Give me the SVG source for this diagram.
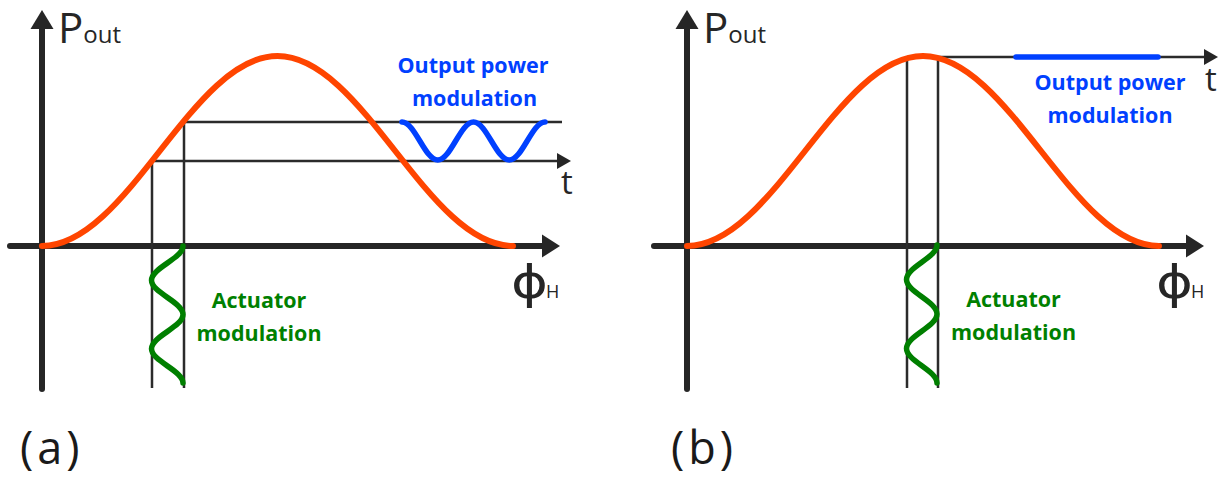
<svg xmlns="http://www.w3.org/2000/svg" width="1231" height="477" viewBox="0 0 1231 477">
<style>
.axis{stroke:#262626;stroke-width:6;fill:none;stroke-linecap:round}
.thin{stroke:#2b2b2b;stroke-width:2.5;fill:none}
.head{fill:#262626;stroke:none}
.curve{stroke:#ff4500;stroke-width:6;fill:none;stroke-linecap:round}
.act{stroke:#007f00;stroke-width:5.5;fill:none;stroke-linecap:round}
.out{stroke:#0040ff;stroke-width:5.5;fill:none;stroke-linecap:round}
.lbl{font-family:"Open Sans","Liberation Sans",sans-serif;fill:#262626}
.blue{font-family:"Open Sans","Liberation Sans",sans-serif;font-weight:bold;font-size:21.5px;fill:#0040ff;text-anchor:middle}
.green{font-family:"Open Sans","Liberation Sans",sans-serif;font-weight:bold;font-size:21.5px;fill:#008000;text-anchor:middle}
.phi{font-family:"DejaVu Sans",sans-serif;font-size:46px;fill:#262626}
.panel{font-family:"Open Sans","Liberation Sans",sans-serif;fill:#1a1a1a;font-size:45px;letter-spacing:4px}
</style>
<g id="connectors">
  <!-- panel a axes -->
  <line class="axis" x1="42" y1="389" x2="42" y2="27"/>
  <polygon class="head" points="42,10 30.5,29 53.5,29"/>
  <line class="axis" x1="10" y1="246" x2="544" y2="246"/>
  <polygon class="head" points="560,246 542,234.5 542,257.5"/>
  <!-- panel a guides -->
  <polyline class="thin" points="152,388 152,161 559,161"/>
  <polygon class="head" points="571,161 557,153 557,169"/>
  <polyline class="thin" points="184,388 184,122 562,122"/>
  <!-- panel b axes -->
  <line class="axis" x1="687" y1="389" x2="687" y2="27"/>
  <polygon class="head" points="687,10 675.5,29 698.5,29"/>
  <line class="axis" x1="654" y1="246" x2="1189" y2="246"/>
  <polygon class="head" points="1204,246 1186,234.5 1186,257.5"/>
  <!-- panel b guides -->
  <line class="thin" x1="907" y1="388" x2="907" y2="57"/>
  <line class="thin" x1="938" y1="388" x2="938" y2="57"/>
  <line class="thin" x1="907" y1="57" x2="1205" y2="57"/>
  <polygon class="head" points="1218,57 1204,49 1204,65"/>
</g>
<g id="transfer-curve-a">
  <path class="curve" d="M42,246 C127.6,246 191.9,56 277.5,56 C363.1,56 427.4,246 513,246"/>
</g>
<g id="actuator-modulation-a">
  <path class="act" d="M183,246 C183,258.45 151.5,267.8 151.5,280.25 C151.5,292.7 183,302.05 183,314.5 C183,326.95 151.5,336.3 151.5,348.75 C151.5,361.2 183,370.55 183,383"/>
  <text class="green" x="259" y="308">Actuator</text>
  <text class="green" x="259" y="341">modulation</text>
</g>
<g id="output-modulation-a">
  <path class="out" d="M402,122 C415,122 424.75,160 437.75,160 C450.75,160 460.5,122 473.5,122 C486.5,122 496.25,160 509.25,160 C522.25,160 532,122 545,122"/>
  <text class="blue" x="473" y="73">Output power</text>
  <text class="blue" x="474.5" y="106">modulation</text>
</g>
<g id="labels-a">
  <text class="lbl" x="58" y="43" font-size="42">P<tspan font-size="24">out</tspan></text>
  <text class="lbl" x="567" y="194" font-size="33" text-anchor="middle">t</text>
  <text class="phi" transform="translate(511,298) scale(1.22,1)">ɸ</text>
  <text class="lbl" x="546" y="298" font-size="18">H</text>
  <text class="panel" x="20" y="464">(a)</text>
</g>
<g id="transfer-curve-b">
  <path class="curve" d="M687,246 C772.8,246 837.2,56 923,56 C1008.8,56 1073.2,246 1159,246"/>
</g>
<g id="actuator-modulation-b">
  <path class="act" d="M937,245 C937,257.5 906.5,267 906.5,279.5 C906.5,292 937,301.5 937,314 C937,326.5 906.5,336 906.5,348.5 C906.5,361 937,370.5 937,383"/>
  <text class="green" x="1013.5" y="307">Actuator</text>
  <text class="green" x="1013.5" y="340">modulation</text>
</g>
<g id="output-modulation-b">
  <line class="out" x1="1016" y1="57" x2="1158" y2="57"/>
  <text class="blue" x="1110" y="90">Output power</text>
  <text class="blue" x="1110" y="123">modulation</text>
</g>
<g id="labels-b">
  <text class="lbl" x="703" y="43" font-size="42">P<tspan font-size="24">out</tspan></text>
  <text class="lbl" x="1211" y="91" font-size="33" text-anchor="middle">t</text>
  <text class="phi" transform="translate(1156,298) scale(1.22,1)">ɸ</text>
  <text class="lbl" x="1191" y="298" font-size="18">H</text>
  <text class="panel" x="671" y="464">(b)</text>
</g>
</svg>
